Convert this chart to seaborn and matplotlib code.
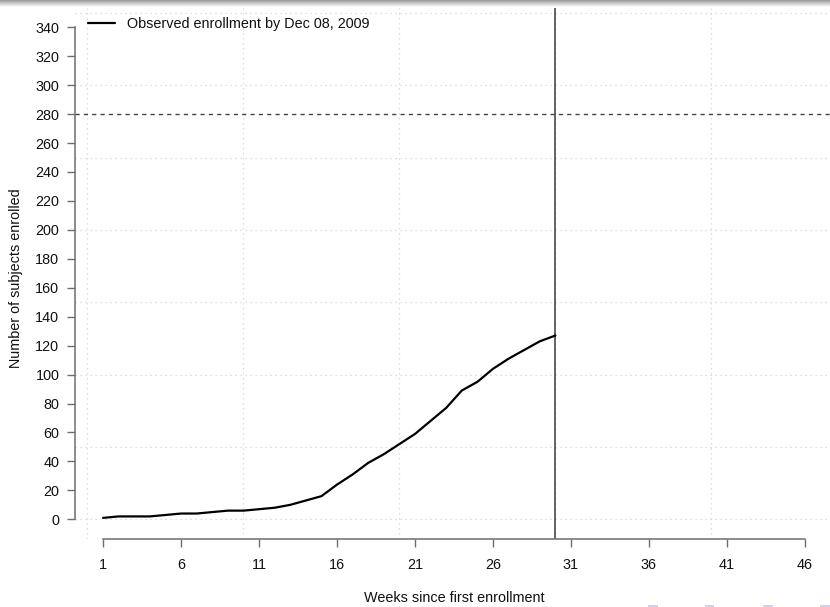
import numpy as np
import pandas as pd
import matplotlib
matplotlib.use("Agg")
import matplotlib.pyplot as plt
from matplotlib.patches import Rectangle
import seaborn as sns

# Weekly cumulative enrollment
weeks = list(range(1, 31))
enrolled = [1, 2, 2, 2, 3, 4, 4, 5, 6, 6, 7, 8, 10, 13, 16,
            24, 31, 39, 45, 52, 59, 68, 77, 89, 95, 104, 111, 117, 123, 127]

target = 280          # enrollment goal
cutoff_week = 30      # current week
legend_label = "Observed enrollment by Dec 08, 2009"

x_ticks = list(range(1, 47, 5))
y_ticks = list(range(0, 341, 20))
grid_x = list(range(0, 51, 10))
grid_y = list(range(0, 351, 50))

df = pd.DataFrame({"week": weeks, "enrolled": enrolled})

sns.set_theme(style="white")
plt.rcParams["font.family"] = ["Liberation Sans", "DejaVu Sans"]

FS = 10.4
W, H = 830, 607
fig = plt.figure(figsize=(W / 100, H / 100), dpi=100)
fig.patch.set_facecolor("white")

# plot region in pixels: left 75, right 833, top 7.6, bottom 539
ax = fig.add_axes([75 / W, (H - 539) / H, (833 - 75) / W, (539 - 7.6) / H])
ax.set_facecolor("white")

for gx in grid_x:
    ax.axvline(gx, color="#d4d4d4", lw=0.9, ls=(0, (1, 3)), zorder=0)
for gy in grid_y:
    ax.axhline(gy, color="#d4d4d4", lw=0.9, ls=(0, (1, 3)), zorder=0)

ax.axhline(target, color="#444444", lw=1.0, ls=(0, (3, 3)), zorder=1)
ax.axvline(cutoff_week, color="#3a3a3a", lw=1.1, zorder=1)

sns.lineplot(data=df, x="week", y="enrolled", ax=ax, color="black",
             lw=1.6, label=legend_label, zorder=3)

ax.set_xlim(-0.8, 47.8)
ax.set_ylim(-13.6, 353.6)

for side in ("top", "right"):
    ax.spines[side].set_visible(False)
for side in ("left", "bottom"):
    ax.spines[side].set_color("#6e6e6e")
    ax.spines[side].set_linewidth(1.1)
ax.spines["left"].set_bounds(0, 340)
ax.spines["bottom"].set_bounds(1, 46)

ax.set_xticks(x_ticks)
ax.set_yticks(y_ticks)
ax.tick_params(axis="both", which="major", direction="out", length=5.8,
               width=1.0, color="#6e6e6e", labelsize=FS, labelcolor="#111111",
               left=True, bottom=True)
ax.tick_params(axis="x", pad=8.0)
ax.tick_params(axis="y", pad=5.5)

ax.set_xlabel("Weeks since first enrollment", fontsize=FS, color="#111111", va="center")
ax.set_ylabel("Number of subjects enrolled", fontsize=FS, color="#111111", va="center")
ax.xaxis.set_label_coords(0.5, (539 - 598) / 531.4)
ax.yaxis.set_label_coords((16.5 - 75) / 758, 0.49)

leg = ax.legend(loc="upper left", bbox_to_anchor=((88 - 75) / 758, (539 - 17) / 531.4),
                frameon=False, fontsize=FS, handlelength=1.9, handletextpad=0.82,
                borderpad=0, borderaxespad=0)
for t in leg.get_texts():
    t.set_color("#111111")

# header shadow band
band = fig.add_axes([0, 1 - 7 / H, 1, 7 / H])
grad = np.linspace(0.62, 0.97, 7).reshape(-1, 1)
band.imshow(grad, cmap="gray", vmin=0, vmax=1, aspect="auto",
            extent=(0, 1, 0, 1))
band.set_axis_off()

# navigation marks at the bottom edge
for x0, w in [(648, 10), (705, 9), (763, 10), (820, 10)]:
    fig.add_artist(Rectangle((x0 / W, 0), w / W, 2.5 / H, transform=fig.transFigure,
                             facecolor="#cfcff2", edgecolor="none"))

fig.savefig("out.png", dpi=100)
